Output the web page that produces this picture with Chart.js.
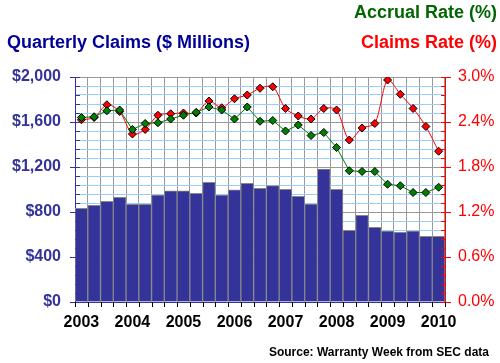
<!DOCTYPE html>
<html>
<head>
<meta charset="utf-8">
<script src="https://cdn.jsdelivr.net/npm/chart.js@4"></script>
<style>
  html, body { margin: 0; padding: 0; background: #fff; }
  #wrap { position: relative; width: 500px; height: 363px; overflow: hidden; }
  canvas { position: absolute; left: 0; top: 0; }
  .t { position: absolute; font-family: "Liberation Sans", Arial, sans-serif; font-weight: bold; white-space: nowrap; line-height: 1; }
</style>
</head>
<body>
<div id="wrap">
  <canvas id="c" width="500" height="363"></canvas>
  <div class="t" style="left:7px; top:33px; font-size:18px; color:#000099;">Quarterly Claims ($ Millions)</div>
  <div class="t" style="right:3px; top:3px; font-size:18px; color:#006600;">Accrual Rate (%)</div>
  <div class="t" style="right:3px; top:33px; font-size:18px; color:#ff0000;">Claims Rate (%)</div>
  <div class="t" style="right:11px; top:346px; font-size:12px; color:#000;">Source: Warranty Week from SEC data</div>
</div>
<script>
// Quarters Q1 2003 .. Q1 2010
const quarters = ['2003','','','','2004','','','','2005','','','','2006','','','','2007','','','','2008','','','','2009','','','','2010'];
const claims = [833, 859, 895, 930, 868, 868, 951, 989, 989, 966, 1064, 951, 998, 1055, 1010, 1034, 1001, 939, 871, 1182, 1001, 637, 770, 664, 631, 619, 631, 584, 584];
const accrualRate = [2.46, 2.47, 2.55, 2.56, 2.30, 2.38, 2.39, 2.44, 2.49, 2.53, 2.60, 2.56, 2.44, 2.60, 2.41, 2.42, 2.28, 2.36, 2.22, 2.26, 2.06, 1.75, 1.74, 1.74, 1.57, 1.55, 1.46, 1.46, 1.53];
const claimsRate = [2.43, 2.46, 2.63, 2.54, 2.24, 2.30, 2.49, 2.51, 2.52, 2.52, 2.68, 2.59, 2.71, 2.76, 2.85, 2.87, 2.58, 2.48, 2.44, 2.58, 2.56, 2.16, 2.32, 2.38, 2.96, 2.77, 2.58, 2.34, 2.01];
const leftTicks = [0, 400, 800, 1200, 1600, 2000];
const rightTicks = [0, 0.6, 1.2, 1.8, 2.4, 3.0];

const FONT = '"Liberation Sans", Arial, sans-serif';

const tickMarks = {
  id: 'tickMarks',
  afterDatasetsDraw(chart) {
    const { ctx, chartArea: a, scales: { x, y, y1 } } = chart;
    ctx.save();
    ctx.lineWidth = 1;
    ctx.strokeStyle = '#333399';
    for (const t of y.ticks) {
      const py = Math.round(y.getPixelForValue(t.value)) + 0.5;
      const major = leftTicks.includes(t.value);
      ctx.beginPath(); ctx.moveTo(major ? a.left - 5 : a.left, py); ctx.lineTo(a.left + 5, py); ctx.stroke();
    }
    ctx.strokeStyle = '#ff0000';
    for (let i = 0; i < rightTicks.length; i++) {
      const v0 = rightTicks[i];
      const v1 = i + 1 < rightTicks.length ? rightTicks[i + 1] : null;
      const py = Math.round(y1.getPixelForValue(v0)) + 0.5;
      ctx.beginPath(); ctx.moveTo(a.right - 4, py); ctx.lineTo(a.right + 6, py); ctx.stroke();
      if (v1 !== null) {
        for (let k = 1; k < 5; k++) {
          const pm = Math.round(y1.getPixelForValue(v0 + (v1 - v0) * k / 5)) + 0.5;
          ctx.beginPath(); ctx.moveTo(a.right - 4, pm); ctx.lineTo(a.right, pm); ctx.stroke();
        }
      }
    }
    ctx.strokeStyle = '#000';
    for (let i = 0; i <= quarters.length; i++) {
      const px = Math.round(x.getPixelForValue(i - 0.5)) + 0.5;
      ctx.beginPath(); ctx.moveTo(px, a.bottom); ctx.lineTo(px, a.bottom + 5); ctx.stroke();
    }
    ctx.restore();
  }
};

new Chart(document.getElementById('c'), {
  data: {
    labels: quarters,
    datasets: [
      { type: 'line', label: 'Accrual Rate (%)', data: accrualRate, yAxisID: 'y1', order: 1,
        borderColor: '#008000', borderWidth: 1, tension: 0,
        pointStyle: 'rectRot', pointRadius: 4, pointBackgroundColor: '#008000', pointBorderColor: '#000', pointBorderWidth: 1 },
      { type: 'line', label: 'Claims Rate (%)', data: claimsRate, yAxisID: 'y1', order: 2,
        borderColor: '#ff0000', borderWidth: 1, tension: 0.3,
        pointStyle: 'rectRot', pointRadius: 4, pointBackgroundColor: '#ff0000', pointBorderColor: '#000', pointBorderWidth: 1 },
      { type: 'bar', label: 'Quarterly Claims', data: claims, yAxisID: 'y', order: 3,
        backgroundColor: '#333399', borderColor: '#888888', borderWidth: 1, categoryPercentage: 1, barPercentage: 1 }
    ]
  },
  options: {
    responsive: false,
    animation: false,
    layout: { padding: { top: 77, left: 0, right: 0, bottom: 0 } },
    plugins: { legend: { display: false }, tooltip: { enabled: false }, title: { display: false } },
    scales: {
      x: {
        type: 'category', offset: true,
        grid: { offset: true, color: '#999999', drawTicks: false },
        border: { color: '#333399' },
        ticks: { autoSkip: false, maxRotation: 0, minRotation: 0, padding: 11, color: '#000',
                 font: { family: FONT, size: 16, weight: 'bold' } },
        afterFit: s => { s.height = 61; }
      },
      y: {
        position: 'left', min: 0, max: 2000,
        ticks: { stepSize: 80, autoSkip: false, padding: 14, color: '#333399',
                 font: { family: FONT, size: 16, weight: 'bold' },
                 callback: v => leftTicks.includes(v) ? '$' + v.toLocaleString('en-US') : '' },
        grid: { drawTicks: false, color: c => (c.tick && leftTicks.includes(c.tick.value)) ? '#999999' : '#99ccff' },
        border: { color: '#333399' },
        afterFit: s => { s.width = 75; }
      },
      y1: {
        position: 'right', min: 0, max: 3.0,
        ticks: { stepSize: 0.6, autoSkip: false, padding: 13, color: '#ff0000',
                 font: { family: FONT, size: 16 }, callback: v => v.toFixed(1) + '%' },
        grid: { drawOnChartArea: false, drawTicks: false },
        border: { color: '#ff0000' },
        afterFit: s => { s.width = 55; }
      }
    }
  },
  plugins: [tickMarks]
});
</script>
</body>
</html>
